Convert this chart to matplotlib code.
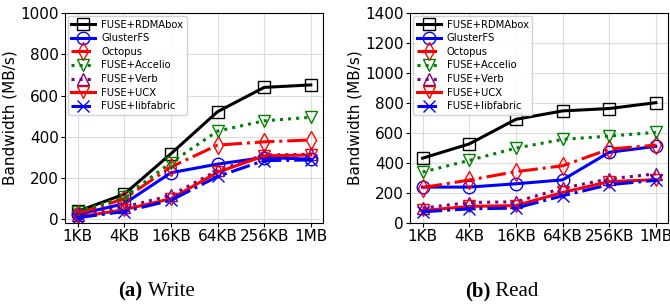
import matplotlib
matplotlib.use("Agg")
import matplotlib.pyplot as plt
import numpy as np

# data (MB/s)
sizes = ["1KB", "4KB", "16KB", "64KB", "256KB", "1MB"]
systems = ["FUSE+RDMAbox", "GlusterFS", "Octopus", "FUSE+Accelio",
           "FUSE+Verb", "FUSE+UCX", "FUSE+libfabric"]

write_rdmabox = [39, 122, 318, 522, 640, 652]
write_gluster = [24, 76, 226, 268, 300, 292]
write_octopus = [28, 100, 254, 360, 376, 385]
write_accelio = [38, 108, 275, 428, 478, 495]
write_verb = [19, 60, 116, 237, 312, 316]
write_ucx = [11, 47, 100, 228, 308, 312]
write_libfabric = [8, 38, 92, 208, 285, 288]

read_rdmabox = [433, 528, 692, 748, 764, 803]
read_gluster = [240, 240, 262, 288, 472, 512]
read_octopus = [237, 287, 343, 382, 493, 520]
read_accelio = [340, 418, 500, 558, 580, 605]
read_verb = [100, 137, 142, 232, 295, 328]
read_ucx = [84, 111, 117, 204, 277, 289]
read_libfabric = [75, 95, 100, 182, 256, 285]

write_data = [write_rdmabox, write_gluster, write_octopus, write_accelio,
              write_verb, write_ucx, write_libfabric]
read_data = [read_rdmabox, read_gluster, read_octopus, read_accelio,
             read_verb, read_ucx, read_libfabric]

styles = [
    dict(color="black", linestyle="-", marker="s"),
    dict(color="blue", linestyle="-", marker="o"),
    dict(color="red", linestyle="-.", marker="d"),
    dict(color="green", linestyle=":", marker="v"),
    dict(color="purple", linestyle=":", marker="^"),
    dict(color="red", linestyle="-", marker="v"),
    dict(color="blue", linestyle="-.", marker="x"),
]

fig = plt.figure(figsize=(6.7, 3.06), dpi=100)
ax1 = fig.add_axes([0.097, 0.271, 0.385, 0.686])
ax2 = fig.add_axes([0.612, 0.271, 0.385, 0.686])

x = np.arange(len(sizes))


def draw(ax, data, ymax, step):
    for name, vals, st in zip(systems, data, styles):
        ax.plot(x, vals, label=name, color=st["color"], linestyle=st["linestyle"],
                marker=st["marker"], markersize=9, markerfacecolor="none",
                markeredgecolor=st["color"], markeredgewidth=1.0, linewidth=2.2)
    ax.set_xticks(x)
    ax.set_xticklabels(sizes, fontsize=11)
    ax.set_xlim(-0.27, 5.26)
    ax.set_yticks(np.arange(0, ymax + 1, step))
    ax.tick_params(axis="y", labelsize=11)
    ax.tick_params(axis="both", pad=1.5, length=3)
    ax.set_ylabel("Bandwidth (MB/s)", fontsize=11, labelpad=2)
    ax.grid(True, color="#dddddd", linewidth=0.8)
    ax.set_axisbelow(True)
    ax.legend(loc="upper left", fontsize=7.2, handlelength=2.4,
              borderpad=0.35, labelspacing=0.36, handletextpad=0.6,
              borderaxespad=0.3, framealpha=0.9)


draw(ax1, write_data, 1000, 200)
ax1.set_ylim(-18, 1000)
draw(ax2, read_data, 1400, 200)
ax2.set_ylim(0, 1400)

serif = "Liberation Serif"
fig.text(0.213, 0.046, "(a)", fontsize=15, fontweight="bold", family=serif,
         ha="right", va="center")
fig.text(0.213, 0.046, " Write", fontsize=15, family=serif, ha="left", va="center")
fig.text(0.732, 0.046, "(b)", fontsize=15, fontweight="bold", family=serif,
         ha="right", va="center")
fig.text(0.732, 0.046, " Read", fontsize=15, family=serif, ha="left", va="center")

fig.savefig("out.png", dpi=100)
